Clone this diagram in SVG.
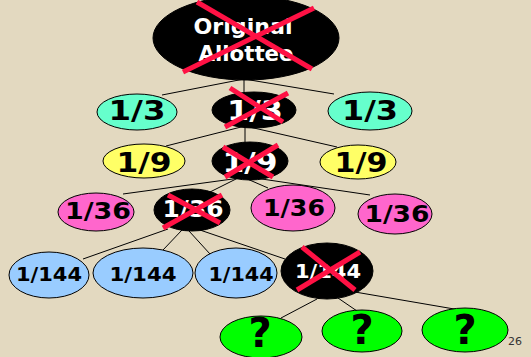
<svg xmlns="http://www.w3.org/2000/svg" width="531" height="357" viewBox="0 0 531 357">
<style>
.n{stroke:#000;stroke-width:1}
.blk{fill:#000}
.mint{fill:#66FFCC}
.yel{fill:#FFFF66}
.pink{fill:#FF66CC}
.blue{fill:#99CCFF}
.grn{fill:#00FF00}
.t{font-family:"DejaVu Sans","Verdana",sans-serif;font-weight:bold;text-anchor:middle}
.w{fill:#fff}
.k{fill:#000}
.x{stroke:#FF1144;stroke-width:5;fill:none}
.c{stroke:#000;stroke-width:1;fill:none}
</style>
<rect width="531" height="357" fill="#E3D9C0"/>
<g id="connectors" class="c">
<line x1="244" y1="79" x2="162" y2="95"/>
<line x1="244" y1="79" x2="244" y2="93"/>
<line x1="244" y1="79" x2="334" y2="94"/>
<line x1="245" y1="126" x2="166" y2="146"/>
<line x1="245" y1="126" x2="245" y2="143"/>
<line x1="245" y1="126" x2="337" y2="147"/>
<line x1="240" y1="178" x2="123" y2="194"/>
<line x1="238" y1="178" x2="210" y2="192"/>
<line x1="245" y1="178" x2="268" y2="188"/>
<line x1="255" y1="178" x2="370" y2="195"/>
<line x1="168" y1="229" x2="83" y2="259"/>
<line x1="182" y1="230" x2="163" y2="250"/>
<line x1="189" y1="231" x2="210" y2="254"/>
<line x1="197" y1="229" x2="285" y2="259"/>
<line x1="317" y1="299" x2="281" y2="318"/>
<line x1="338" y1="298" x2="357" y2="311"/>
<line x1="355" y1="292" x2="460" y2="310"/>
</g>
<g id="original">
<ellipse class="n blk" cx="246" cy="38" rx="93" ry="42"/>
<text class="t w" x="243" y="34" font-size="21" textLength="99" lengthAdjust="spacingAndGlyphs">Original</text>
<text class="t w" x="246" y="61" font-size="21" textLength="95" lengthAdjust="spacingAndGlyphs">Allottee</text>
<line class="x" x1="183" y1="72" x2="314" y2="8"/>
<line class="x" x1="197" y1="2" x2="312" y2="69"/>
</g>
<g id="third-left">
<ellipse class="n mint" cx="137" cy="112" rx="40" ry="18"/>
<text class="t k" x="137" y="120" font-size="27" textLength="57" lengthAdjust="spacingAndGlyphs">1/3</text>
</g>
<g id="third-mid">
<ellipse class="n blk" cx="254" cy="110" rx="42" ry="18"/>
<text class="t w" x="255" y="120" font-size="27" textLength="56" lengthAdjust="spacingAndGlyphs">1/3</text>
<line class="x" x1="225" y1="127" x2="288" y2="93"/>
<line class="x" x1="230" y1="88" x2="283" y2="122"/>
</g>
<g id="third-right">
<ellipse class="n mint" cx="370" cy="111" rx="42" ry="19"/>
<text class="t k" x="370" y="120" font-size="27" textLength="56" lengthAdjust="spacingAndGlyphs">1/3</text>
</g>
<g id="ninth-left">
<ellipse class="n yel" cx="144" cy="161" rx="41" ry="17"/>
<text class="t k" x="144" y="172" font-size="27" textLength="55" lengthAdjust="spacingAndGlyphs">1/9</text>
</g>
<g id="ninth-mid">
<ellipse class="n blk" cx="250" cy="161" rx="38" ry="19"/>
<text class="t w" x="250" y="172" font-size="27" textLength="55" lengthAdjust="spacingAndGlyphs">1/9</text>
<line class="x" x1="225" y1="177" x2="278" y2="145"/>
<line class="x" x1="223" y1="147" x2="273" y2="177"/>
</g>
<g id="ninth-right">
<ellipse class="n yel" cx="358" cy="162" rx="38" ry="17"/>
<text class="t k" x="361" y="172" font-size="27" textLength="53" lengthAdjust="spacingAndGlyphs">1/9</text>
</g>
<g id="n36-a">
<ellipse class="n pink" cx="96" cy="212" rx="38" ry="19"/>
<text class="t k" x="98" y="219" font-size="23" textLength="66" lengthAdjust="spacingAndGlyphs">1/36</text>
</g>
<g id="n36-b">
<ellipse class="n blk" cx="192" cy="210" rx="38" ry="21"/>
<text class="t w" x="193" y="217" font-size="23" textLength="61" lengthAdjust="spacingAndGlyphs">1/36</text>
<line class="x" x1="163" y1="228" x2="222" y2="195"/>
<line class="x" x1="168" y1="195" x2="220" y2="223"/>
</g>
<g id="n36-c">
<ellipse class="n pink" cx="293" cy="208" rx="42" ry="23"/>
<text class="t k" x="294" y="216" font-size="23" textLength="62" lengthAdjust="spacingAndGlyphs">1/36</text>
</g>
<g id="n36-d">
<ellipse class="n pink" cx="395" cy="214" rx="37" ry="20"/>
<text class="t k" x="397" y="222" font-size="23" textLength="65" lengthAdjust="spacingAndGlyphs">1/36</text>
</g>
<g id="n144-a">
<ellipse class="n blue" cx="49" cy="275" rx="40" ry="23"/>
<text class="t k" x="49" y="281" font-size="20" textLength="66" lengthAdjust="spacingAndGlyphs">1/144</text>
</g>
<g id="n144-b">
<ellipse class="n blue" cx="143" cy="273" rx="50" ry="25"/>
<text class="t k" x="143" y="281" font-size="20" textLength="67" lengthAdjust="spacingAndGlyphs">1/144</text>
</g>
<g id="n144-c">
<ellipse class="n blue" cx="236" cy="273" rx="41" ry="25"/>
<text class="t k" x="241" y="281" font-size="20" textLength="65" lengthAdjust="spacingAndGlyphs">1/144</text>
</g>
<g id="n144-d">
<ellipse class="n blk" cx="327" cy="271" rx="46" ry="28"/>
<text class="t w" x="328" y="278" font-size="20" textLength="66" lengthAdjust="spacingAndGlyphs">1/144</text>
<line class="x" x1="297" y1="290" x2="360" y2="252"/>
<line class="x" x1="302" y1="247" x2="355" y2="290"/>
</g>
<g id="q1">
<ellipse class="n grn" cx="261" cy="337" rx="41" ry="21"/>
<text class="t k" x="260" y="347" font-size="40">?</text>
</g>
<g id="q2">
<ellipse class="n grn" cx="362" cy="331" rx="40" ry="21"/>
<text class="t k" x="362" y="344" font-size="40">?</text>
</g>
<g id="q3">
<ellipse class="n grn" cx="465" cy="330" rx="43" ry="22"/>
<text class="t k" x="465" y="344" font-size="40">?</text>
</g>
<text x="508" y="345" font-family="DejaVu Sans, sans-serif" font-size="11" fill="#333">26</text>
</svg>
